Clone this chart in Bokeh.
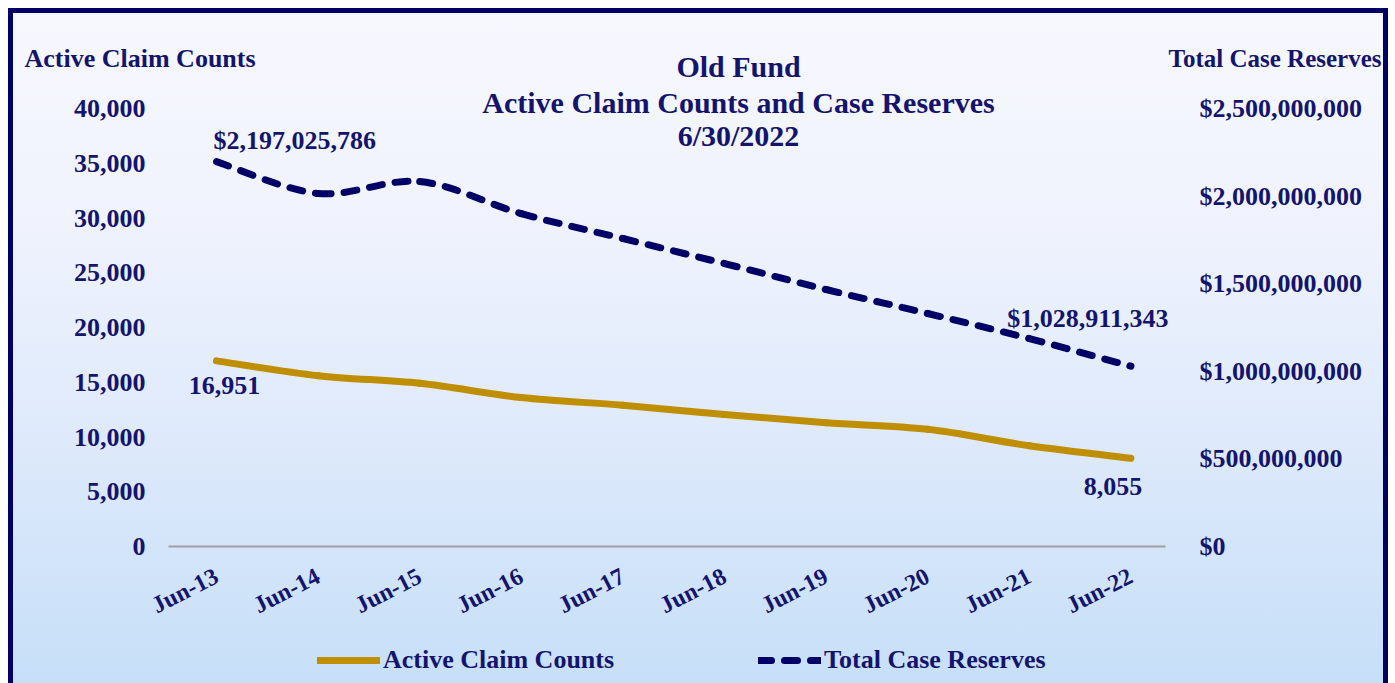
from bokeh.plotting import figure
from bokeh.models import (Range1d, LinearAxis, FixedTicker, NumeralTickFormatter,
                          Label, Legend, LegendItem)
from bokeh.embed import file_html
from bokeh.resources import INLINE

# ---- data ----
periods = ["Jun-13", "Jun-14", "Jun-15", "Jun-16", "Jun-17",
           "Jun-18", "Jun-19", "Jun-20", "Jun-21", "Jun-22"]
claim_counts = [16951, 15600, 14900, 13600, 12900, 12050, 11300, 10700, 9200, 8055]
case_reserves = [2197025786, 2015000000, 2083000000, 1900000000, 1758000000,
                 1615000000, 1467000000, 1330000000, 1187000000, 1028911343]
left_ticks = [0, 5000, 10000, 15000, 20000, 25000, 30000, 35000, 40000]
right_ticks = [0, 500000000, 1000000000, 1500000000, 2000000000, 2500000000]

NAVY = "#000066"
TXT = "#14146E"
GOLD = "#BF8F00"
FONT = "Liberation Serif"

# ---- geometry (page pixels) ----
W, H = 1380, 675
OX, OY = 13, 13                 # canvas origin on the page
X0_PG, DX_PG = 216.0, 101.6     # first category centre and category spacing
Y0_PG, YTOP_PG = 546.0, 108.0   # value 0 and value 40,000
LEFT_MAX = 40000.0
RIGHT_MAX = 2.5e9


def xd(pg):
    return (pg - X0_PG) / DX_PG


def yd(pg):
    return (Y0_PG - pg) / (Y0_PG - YTOP_PG) * LEFT_MAX


scale_r = RIGHT_MAX / LEFT_MAX

p = figure(width=W, height=H, output_backend="svg", toolbar_location=None,
           title_location=None,
           x_range=Range1d(xd(OX), xd(OX + W)),
           y_range=Range1d(yd(OY + H), yd(OY)),
           min_border_left=0, min_border_right=0, min_border_top=0, min_border_bottom=0)
p.extra_y_ranges = {"right": Range1d(yd(OY + H) * scale_r, yd(OY) * scale_r)}
p.background_fill_color = None
p.border_fill_color = None
p.outline_line_color = None
p.grid.visible = False
p.styles = {
    "background": "linear-gradient(to bottom, #F7F8FE 0%, #F0F3FD 30%, #DDE9FB 65%, #C6DFF8 100%)",
    "border-top": "5px solid #000066",
    "border-left": "5px solid #000066",
    "border-right": "5px solid #000066",
    "margin-left": "8px",
    "margin-top": "8px",
}

# x axis
xa = p.xaxis[0]
xa.fixed_location = 0
xa.ticker = FixedTicker(ticks=list(range(len(periods))))
xa.major_label_overrides = {i: s for i, s in enumerate(periods)}
xa.major_label_orientation = 0.47
xa.major_label_text_font = FONT
xa.major_label_text_font_style = "bold"
xa.major_label_text_font_size = "24px"
xa.major_label_text_color = TXT
xa.axis_line_color = "#A0A0A0"
xa.axis_line_width = 2
xa.bounds = (xd(168), xd(1165))
xa.major_tick_line_color = None
xa.minor_tick_line_color = None
xa.major_label_standoff = 22

# left axis
ya = p.yaxis[0]
ya.fixed_location = xd(165)
ya.ticker = FixedTicker(ticks=left_ticks)
ya.formatter = NumeralTickFormatter(format="0,0")
ya.axis_line_color = None
ya.major_tick_line_color = None
ya.minor_tick_line_color = None
ya.major_label_text_font = FONT
ya.major_label_text_font_style = "bold"
ya.major_label_text_font_size = "26px"
ya.major_label_text_color = TXT
ya.major_label_standoff = 14

# right axis
ra = LinearAxis(y_range_name="right", fixed_location=xd(1181))
ra.ticker = FixedTicker(ticks=right_ticks)
ra.formatter = NumeralTickFormatter(format="$0,0")
ra.axis_line_color = None
ra.major_tick_line_color = None
ra.minor_tick_line_color = None
ra.major_label_text_font = FONT
ra.major_label_text_font_style = "bold"
ra.major_label_text_font_size = "26px"
ra.major_label_text_color = TXT
ra.major_label_standoff = 12
p.add_layout(ra, "right")


def smooth_ctrl(ys):
    n = len(ys)
    xs = list(range(n))
    seg = dict(x0=[], y0=[], x1=[], y1=[], cx0=[], cy0=[], cx1=[], cy1=[])
    for i in range(n - 1):
        xm, ym = xs[max(i - 1, 0)], ys[max(i - 1, 0)]
        xp, yp = xs[min(i + 2, n - 1)], ys[min(i + 2, n - 1)]
        seg["x0"].append(xs[i]); seg["y0"].append(ys[i])
        seg["x1"].append(xs[i + 1]); seg["y1"].append(ys[i + 1])
        seg["cx0"].append(xs[i] + (xs[i + 1] - xm) / 6.0)
        seg["cy0"].append(ys[i] + (ys[i + 1] - ym) / 6.0)
        seg["cx1"].append(xs[i + 1] - (xp - xs[i]) / 6.0)
        seg["cy1"].append(ys[i + 1] - (yp - ys[i]) / 6.0)
    return seg


p.bezier(source=smooth_ctrl(claim_counts), x0="x0", y0="y0", x1="x1", y1="y1",
         cx0="cx0", cy0="cy0", cx1="cx1", cy1="cy1",
         line_color=GOLD, line_width=7, line_cap="round")
p.bezier(source=smooth_ctrl(case_reserves), x0="x0", y0="y0", x1="x1", y1="y1",
         cx0="cx0", cy0="cy0", cx1="cx1", cy1="cy1",
         line_color=NAVY, line_width=7, line_cap="round", line_dash="13 13",
         y_range_name="right")

# legend (proxy renderers carry the legend glyph styles)
lg_claims = p.line([0, 0], [0, 0], line_color=GOLD, line_width=7, line_cap="round", visible=False)
lg_res = p.line([0, 0], [0, 0], line_color=NAVY, line_width=7, line_cap="round",
                line_dash="13 13", visible=False)
legend = Legend(items=[LegendItem(label="Active Claim Counts", renderers=[lg_claims]),
                       LegendItem(label="Total Case Reserves", renderers=[lg_res])],
                orientation="horizontal", location=(317 - OX, (OY + H) - 675),
                label_text_font=FONT, label_text_font_style="bold",
                label_text_font_size="26px", label_text_color=TXT,
                glyph_width=63, glyph_height=20, label_standoff=3, spacing=144,
                padding=0, margin=0, border_line_color=None, background_fill_alpha=0)
p.add_layout(legend)

common = dict(text_font=FONT, text_font_style="bold", text_color=TXT)

# chart title
for t, yy in [("Old Fund", 66), ("Active Claim Counts and Case Reserves", 102), ("6/30/2022", 135)]:
    p.add_layout(Label(x=xd(738), y=yd(yy), text=t, text_align="center",
                       text_baseline="middle", text_font_size="30px", **common))

# axis headers
p.add_layout(Label(x=xd(24), y=yd(58), text="Active Claim Counts", text_align="left",
                   text_baseline="middle", text_font_size="26px", **common))
p.add_layout(Label(x=xd(1381), y=yd(58), text="Total Case Reserves", text_align="right",
                   text_baseline="middle", text_font_size="25px", **common))

# data labels
p.add_layout(Label(x=0, y=case_reserves[0], y_range_name="right",
                   text="${:,}".format(case_reserves[0]), x_offset=-3, y_offset=21,
                   text_align="left", text_baseline="middle", text_font_size="26px", **common))
p.add_layout(Label(x=9, y=case_reserves[-1], y_range_name="right",
                   text="${:,}".format(case_reserves[-1]), x_offset=-43, y_offset=48,
                   text_align="center", text_baseline="middle", text_font_size="26px", **common))
p.add_layout(Label(x=0, y=claim_counts[0], text="{:,}".format(claim_counts[0]),
                   x_offset=8, y_offset=-25, text_align="center", text_baseline="middle",
                   text_font_size="26px", **common))
p.add_layout(Label(x=9, y=claim_counts[-1], text="{:,}".format(claim_counts[-1]),
                   x_offset=-18, y_offset=-28, text_align="center", text_baseline="middle",
                   text_font_size="26px", **common))

open("out.html", "w").write(file_html(p, INLINE))
